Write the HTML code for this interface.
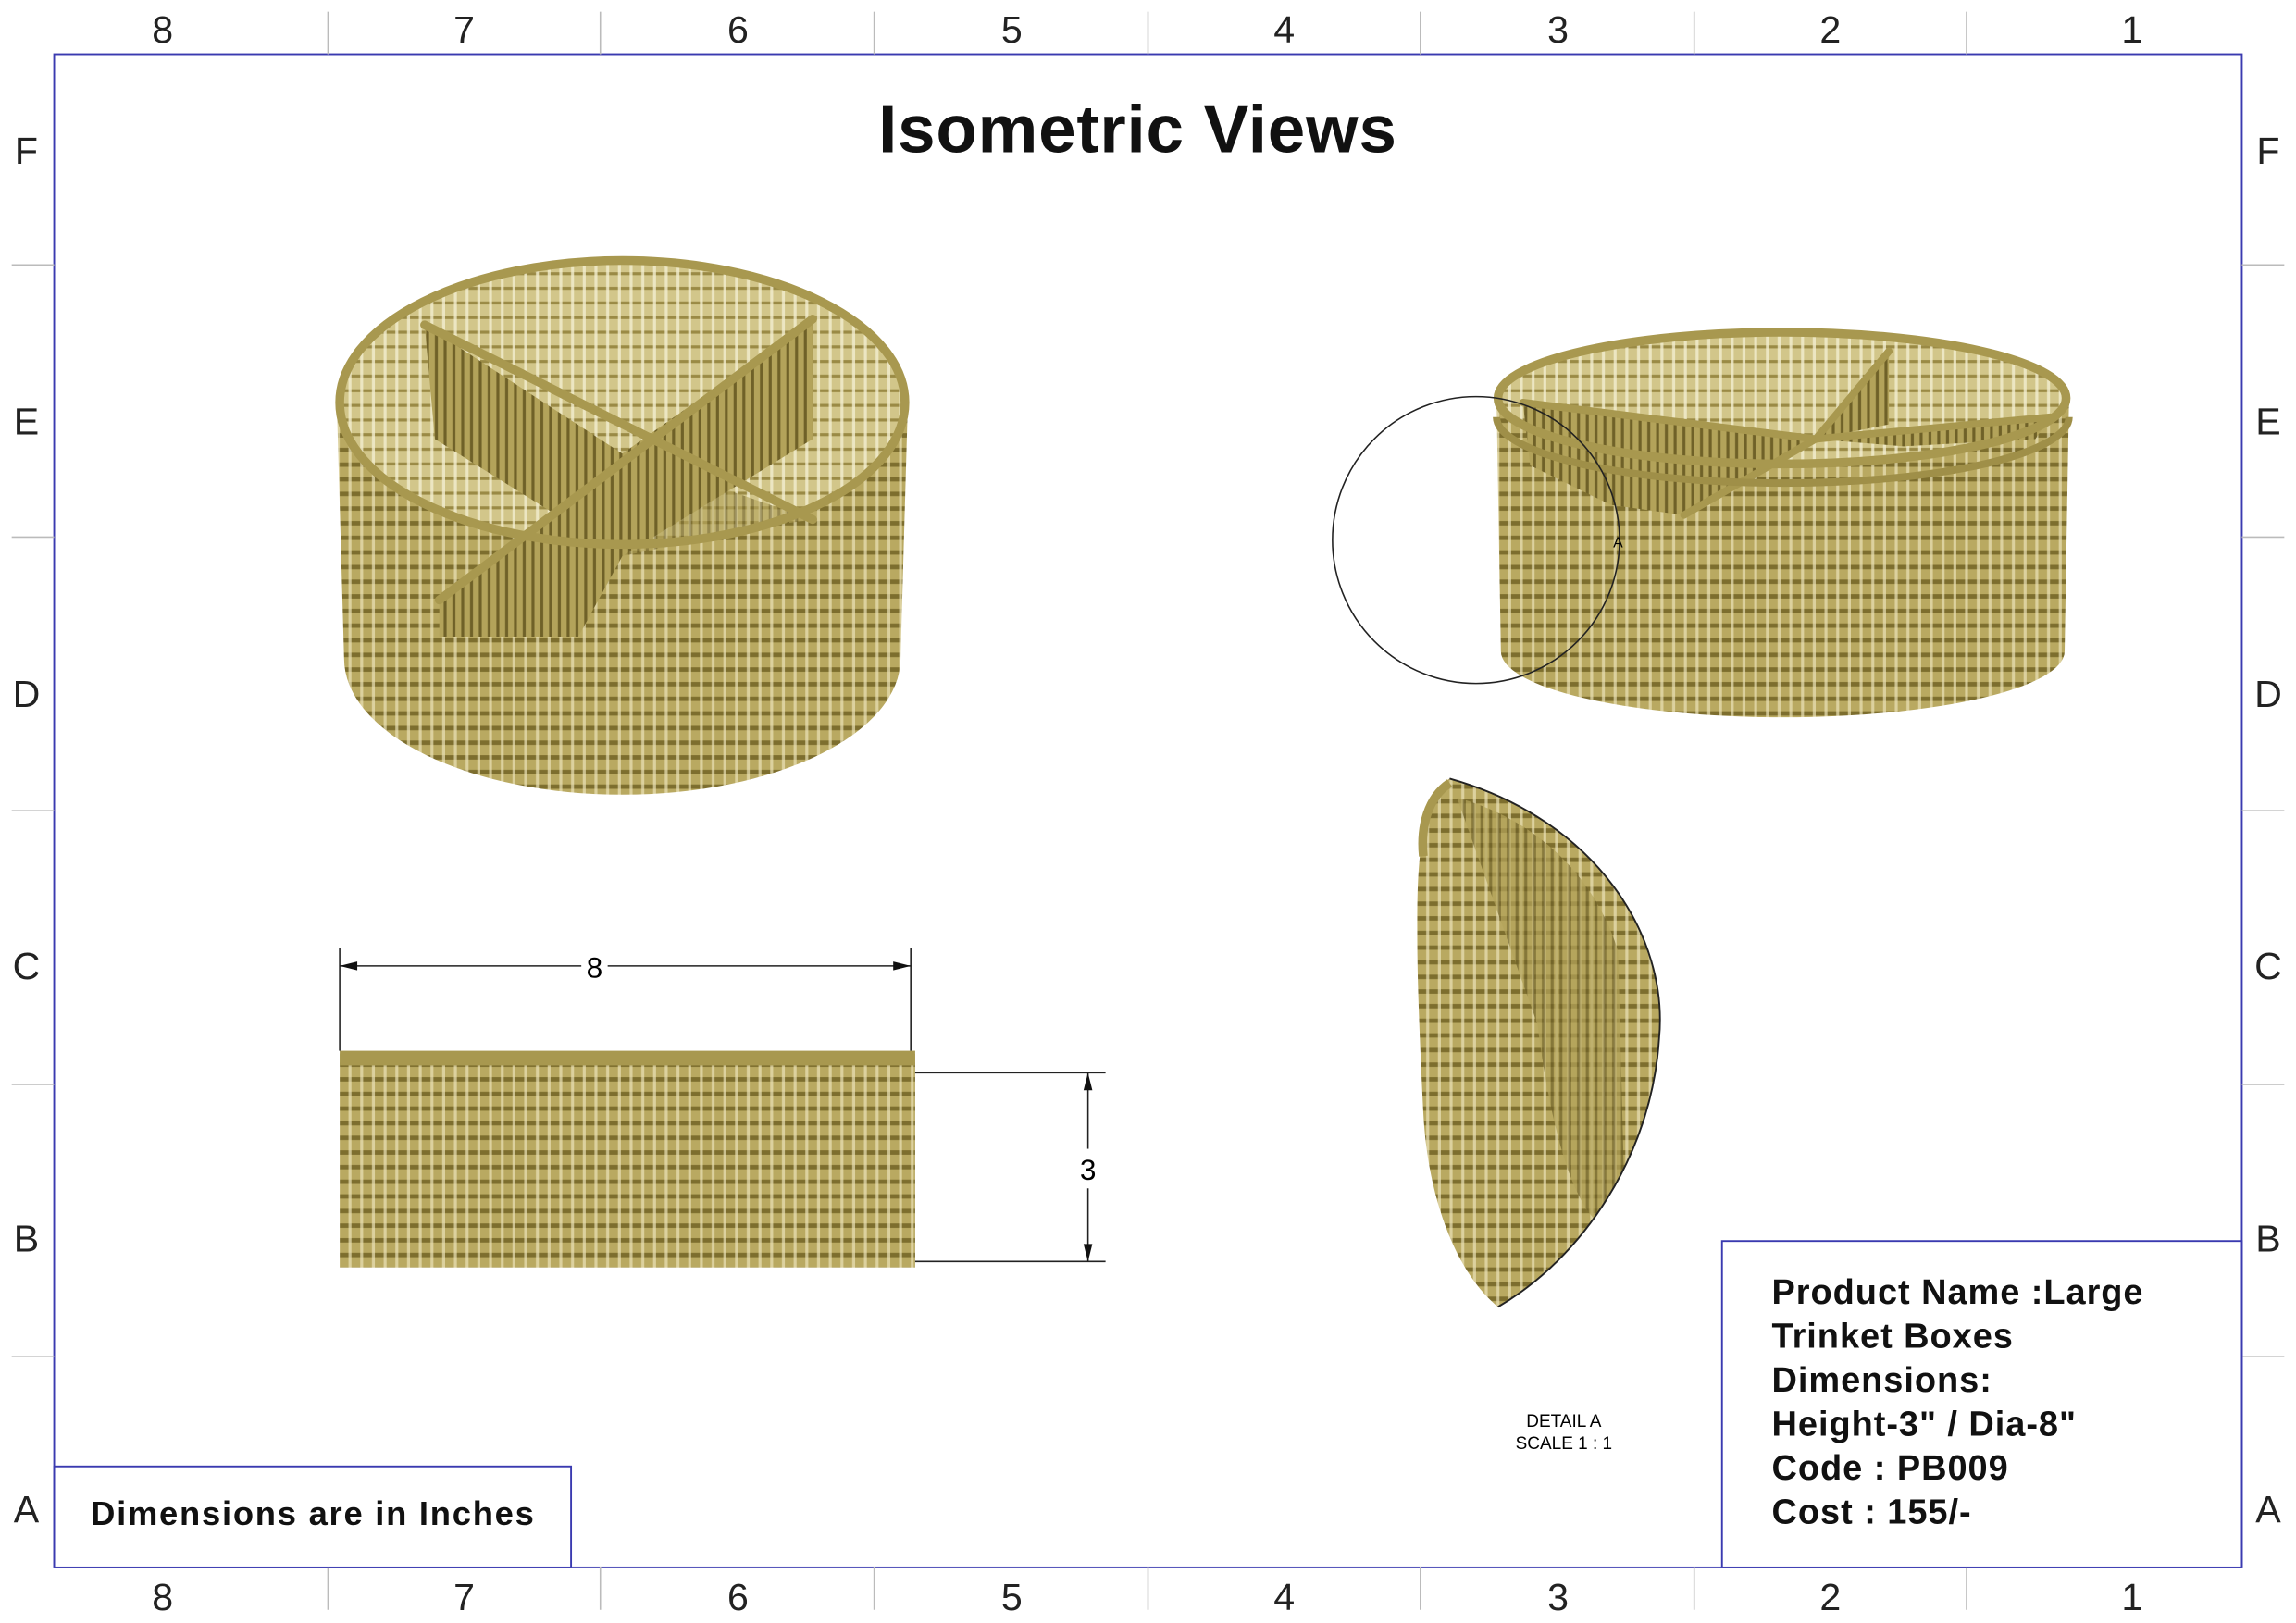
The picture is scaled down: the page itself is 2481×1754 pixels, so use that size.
<!DOCTYPE html>
<html><head><meta charset="utf-8"><style>
html,body{margin:0;padding:0;background:#fff;}
svg{display:block;}
text{font-family:"Liberation Sans",sans-serif;}
</style></head><body>
<svg width="2481" height="1754" viewBox="0 0 1568 1109" preserveAspectRatio="none" xmlns="http://www.w3.org/2000/svg">
<defs>
<pattern id="hs" width="8" height="10" patternUnits="userSpaceOnUse">
<rect width="8" height="10" fill="#b9a961"/>
<rect y="6" width="8" height="3" fill="#7d6e2e"/>
<rect x="6" width="2" height="10" fill="#ece3b8" opacity="0.7"/>
</pattern>
<pattern id="hl" width="8" height="10" patternUnits="userSpaceOnUse">
<rect width="8" height="10" fill="#d2c68a"/>
<rect y="6" width="8" height="2" fill="#9a8a45"/>
<rect x="6" width="2" height="10" fill="#f3edd0" opacity="0.8"/>
</pattern>
<pattern id="vs" width="6" height="10" patternUnits="userSpaceOnUse">
<rect width="6" height="10" fill="#b3a35a"/>
<rect x="3" width="2" height="10" fill="#6f6128"/>
</pattern>
<clipPath id="dA"><path d="M990,532 C1090,560 1140,640 1133,710 C1128,790 1080,860 1023,893 C995,870 975,820 972,760 C968,680 965,600 972,570 C978,545 985,535 990,532 Z"/></clipPath>
</defs>
<rect x="37" y="37" width="1494" height="1034" fill="none" stroke="#3a3ab0" stroke-width="1.2"/>
<g stroke="#bbb" stroke-width="1">
<line x1="224" y1="8" x2="224" y2="37"/><line x1="410" y1="8" x2="410" y2="37"/><line x1="597" y1="8" x2="597" y2="37"/><line x1="784" y1="8" x2="784" y2="37"/><line x1="970" y1="8" x2="970" y2="37"/><line x1="1157" y1="8" x2="1157" y2="37"/><line x1="1343" y1="8" x2="1343" y2="37"/>
<line x1="224" y1="1071" x2="224" y2="1100"/><line x1="410" y1="1071" x2="410" y2="1100"/><line x1="597" y1="1071" x2="597" y2="1100"/><line x1="784" y1="1071" x2="784" y2="1100"/><line x1="970" y1="1071" x2="970" y2="1100"/><line x1="1157" y1="1071" x2="1157" y2="1100"/><line x1="1343" y1="1071" x2="1343" y2="1100"/>
<line x1="8" y1="181" x2="37" y2="181"/><line x1="8" y1="367" x2="37" y2="367"/><line x1="8" y1="554" x2="37" y2="554"/><line x1="8" y1="741" x2="37" y2="741"/><line x1="8" y1="927" x2="37" y2="927"/>
<line x1="1531" y1="181" x2="1560" y2="181"/><line x1="1531" y1="367" x2="1560" y2="367"/><line x1="1531" y1="554" x2="1560" y2="554"/><line x1="1531" y1="741" x2="1560" y2="741"/><line x1="1531" y1="927" x2="1560" y2="927"/>
</g>
<g font-size="26" text-anchor="middle" fill="#222">
<text x="111" y="29">8</text><text x="317" y="29">7</text><text x="504" y="29">6</text><text x="691" y="29">5</text><text x="877" y="29">4</text><text x="1064" y="29">3</text><text x="1250" y="29">2</text><text x="1456" y="29">1</text>
<text x="111" y="1100">8</text><text x="317" y="1100">7</text><text x="504" y="1100">6</text><text x="691" y="1100">5</text><text x="877" y="1100">4</text><text x="1064" y="1100">3</text><text x="1250" y="1100">2</text><text x="1456" y="1100">1</text>
<text x="18" y="112">F</text><text x="18" y="297">E</text><text x="18" y="483">D</text><text x="18" y="669">C</text><text x="18" y="855">B</text><text x="18" y="1040">A</text>
<text x="1549" y="112">F</text><text x="1549" y="297">E</text><text x="1549" y="483">D</text><text x="1549" y="669">C</text><text x="1549" y="855">B</text><text x="1549" y="1040">A</text>
</g>
<text x="777" y="104" font-size="46" font-weight="bold" text-anchor="middle" fill="#111" letter-spacing="0.5">Isometric Views</text>

<!-- basket 1 -->
<path d="M230,275 L235,450 A190,93 0 0 0 615,450 L620,275 Z" fill="url(#hs)"/>
<ellipse cx="425" cy="275" rx="192" ry="96" fill="url(#hl)"/>
<path d="M290,222 L425,310 L425,380 L297,300 Z" fill="url(#vs)"/>
<path d="M555,218 L425,310 L425,380 L555,300 Z" fill="url(#vs)"/>
<path d="M300,410 L425,310 L425,380 L395,435 L300,435 Z" fill="url(#vs)"/>
<path d="M425,310 L555,355 L520,360 L425,380 Z" fill="url(#vs)" opacity="0.6"/>
<g stroke="#a8984f" stroke-width="6" stroke-linecap="round"><line x1="290" y1="222" x2="555" y2="355"/><line x1="555" y1="218" x2="300" y2="410"/></g>
<ellipse cx="425" cy="275" rx="193" ry="97" fill="none" stroke="#a8984f" stroke-width="6"/>

<!-- basket 2 -->
<path d="M1022,272 L1025,445 A192,45 0 0 0 1410,445 L1413,272 Z" fill="url(#hs)"/>
<ellipse cx="1217" cy="272" rx="193" ry="44" fill="url(#hl)"/>
<path d="M1040,275 L1240,300 L1150,352 L1100,345 L1045,318 Z" fill="url(#vs)"/>
<path d="M1240,300 L1290,240 L1290,290 Z" fill="url(#vs)"/>
<path d="M1240,300 L1400,285 L1390,300 L1300,305 Z" fill="url(#vs)"/>
<g stroke="#a8984f" stroke-width="5" stroke-linecap="round"><line x1="1040" y1="275" x2="1240" y2="300"/><line x1="1240" y1="300" x2="1150" y2="352"/><line x1="1240" y1="300" x2="1290" y2="240"/><line x1="1240" y1="300" x2="1400" y2="285"/></g>
<ellipse cx="1217" cy="272" rx="194" ry="45" fill="none" stroke="#a8984f" stroke-width="6"/>
<path d="M1022,285 A195,45 0 0 0 1413,285" fill="none" stroke="#9f8f48" stroke-width="5"/>
<circle cx="1008" cy="369" r="98" fill="none" stroke="#222" stroke-width="1"/>
<text x="1105" y="374" font-size="10" text-anchor="middle">A</text>

<!-- front view -->
<rect x="232" y="720" width="393" height="146" fill="url(#hs)"/>
<rect x="232" y="718" width="393" height="10" fill="#a8984f"/>
<g stroke="#222" stroke-width="1" fill="none">
<line x1="232" y1="648" x2="232" y2="718"/><line x1="622" y1="648" x2="622" y2="718"/>
<line x1="232" y1="660" x2="397" y2="660"/><line x1="415" y1="660" x2="622" y2="660"/>
<line x1="625" y1="733" x2="755" y2="733"/><line x1="625" y1="862" x2="755" y2="862"/>
<line x1="743" y1="733" x2="743" y2="785"/><line x1="743" y1="812" x2="743" y2="862"/>
</g>
<g fill="#111"><path d="M232,660 l12,-3 v6z"/><path d="M622,660 l-12,-3 v6z"/><path d="M743,733 l-3,12 h6z"/><path d="M743,862 l-3,-12 h6z"/></g>
<text x="406" y="668" font-size="20" text-anchor="middle">8</text>
<text x="743" y="806" font-size="20" text-anchor="middle">3</text>

<!-- detail A -->
<path d="M990,532 C1090,560 1140,640 1133,710 C1128,790 1080,860 1023,893 C995,870 975,820 972,760 C968,680 965,600 972,570 C978,545 985,535 990,532 Z" fill="url(#hs)"/>
<g clip-path="url(#dA)"><path d="M995,545 C1050,560 1090,600 1105,650 L1110,840 C1080,850 1060,780 1050,700 Z" fill="url(#vs)" opacity="0.7"/></g>
<path d="M990,532 C1090,560 1140,640 1133,710 C1128,790 1080,860 1023,893" fill="none" stroke="#222" stroke-width="1.2"/>
<path d="M990,535 C975,545 970,565 972,585" fill="none" stroke="#a8984f" stroke-width="6"/>
<text x="1068" y="975" font-size="12" text-anchor="middle">DETAIL A</text>
<text x="1068" y="990" font-size="12" text-anchor="middle">SCALE 1 : 1</text>

<!-- title blocks -->
<rect x="1176" y="848" width="355" height="223" fill="#fff" stroke="#3a3ab0" stroke-width="1.2"/>
<g font-size="24" font-weight="bold" fill="#111" letter-spacing="0.6">
<text x="1210" y="891">Product Name :Large</text>
<text x="1210" y="921">Trinket Boxes</text>
<text x="1210" y="951">Dimensions:</text>
<text x="1210" y="981">Height-3" / Dia-8"</text>
<text x="1210" y="1011">Code : PB009</text>
<text x="1210" y="1041">Cost : 155/-</text>
</g>
<rect x="37" y="1002" width="353" height="69" fill="#fff" stroke="#3a3ab0" stroke-width="1.2"/>
<text x="62" y="1042" font-size="23" font-weight="bold" fill="#111" letter-spacing="1.1">Dimensions are in Inches</text>
</svg>
</body></html>
